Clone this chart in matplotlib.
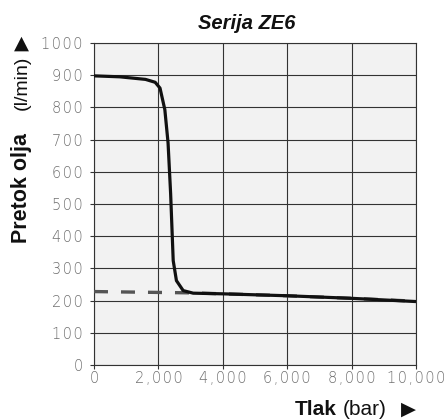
import numpy as np
import matplotlib
matplotlib.use("Agg")
import matplotlib.pyplot as plt
from matplotlib.ticker import FuncFormatter

# =========================
# DATA
# =========================
pressure = [0, 800, 1600, 1900, 2050, 2200, 2300, 2380, 2460, 2560, 2770, 3080, 4000, 6000, 8000, 10000]
flow = [898, 895, 887, 878, 860, 793, 690, 532, 324, 262, 231, 223, 221, 215, 207, 197]

dash_pressure = [0, 3000, 4000, 6000, 8000, 10000]
dash_flow = [228, 224, 221, 215, 207, 198]

x_ticks = [0, 2000, 4000, 6000, 8000, 10000]
y_ticks = [0, 100, 200, 300, 400, 500, 600, 700, 800, 900, 1000]

LABEL_FONT = "Liberation Sans"
HAIR = "\u200a"  # tick labels in the reference are letter-spaced

# =========================
# FIGURE
# =========================
fig = plt.figure(figsize=(4.48, 4.2), dpi=100)
ax = fig.add_axes([0.2098, 0.131, 0.7188, 0.7666])
ax.set_facecolor("#f2f2f2")

ax.plot(dash_pressure, dash_flow, color="#555555", lw=2.4, ls=(0, (4.2, 3.9)), zorder=3)
ax.plot(pressure, flow, color="#111111", lw=2.3, solid_capstyle="butt", zorder=4)

ax.set_xlim(0, 10000)
ax.set_ylim(0, 1000)
ax.set_xticks(x_ticks)
ax.set_yticks(y_ticks)
ax.xaxis.set_major_formatter(FuncFormatter(lambda v, p: HAIR.join(f"{int(v):,}")))
ax.yaxis.set_major_formatter(FuncFormatter(lambda v, p: HAIR.join(f"{int(v)}")))
ax.grid(True, color="#333333", lw=0.8)
ax.set_axisbelow(True)

for s in ax.spines.values():
    s.set_color("#333333")
    s.set_linewidth(0.8)

ax.tick_params(length=3, width=0.8, color="#333333", labelcolor="#707070",
               labelsize=10.5)
ax.tick_params(axis="x", pad=1)
ax.tick_params(axis="y", pad=5)
for lab in ax.get_xticklabels() + ax.get_yticklabels():
    lab.set_fontfamily("DejaVu Sans")
    lab.set_fontweight("light")

# title (slightly left of the axes centre, as in the reference)
fig.text(0.550, 0.944, "Serija ZE6", ha="center", va="center", family=LABEL_FONT,
         fontsize=14.5, fontweight="bold", style="italic", color="#111111")

# axis labels with bold/normal parts
fig.text(0.049, 0.552, "Pretok olja", rotation=90, ha="center", va="center",
         family=LABEL_FONT, fontsize=15.5, fontweight="bold", color="#111111")
fig.text(0.049, 0.802, "(l/min)", rotation=90, ha="center", va="center",
         family=LABEL_FONT, fontsize=14, color="#111111")
fig.text(0.047, 0.898, "\u25B2", ha="center", va="center", fontsize=14, color="#111111")

fig.text(0.705, 0.024, "Tlak", ha="center", va="center", family=LABEL_FONT,
         fontsize=15, fontweight="bold", color="#111111")
fig.text(0.815, 0.024, "(bar)", ha="center", va="center", family=LABEL_FONT,
         fontsize=15, color="#111111")
fig.text(0.911, 0.026, "\u25B6", ha="center", va="center", fontsize=14, color="#111111")

fig.savefig("out.png", dpi=100)
